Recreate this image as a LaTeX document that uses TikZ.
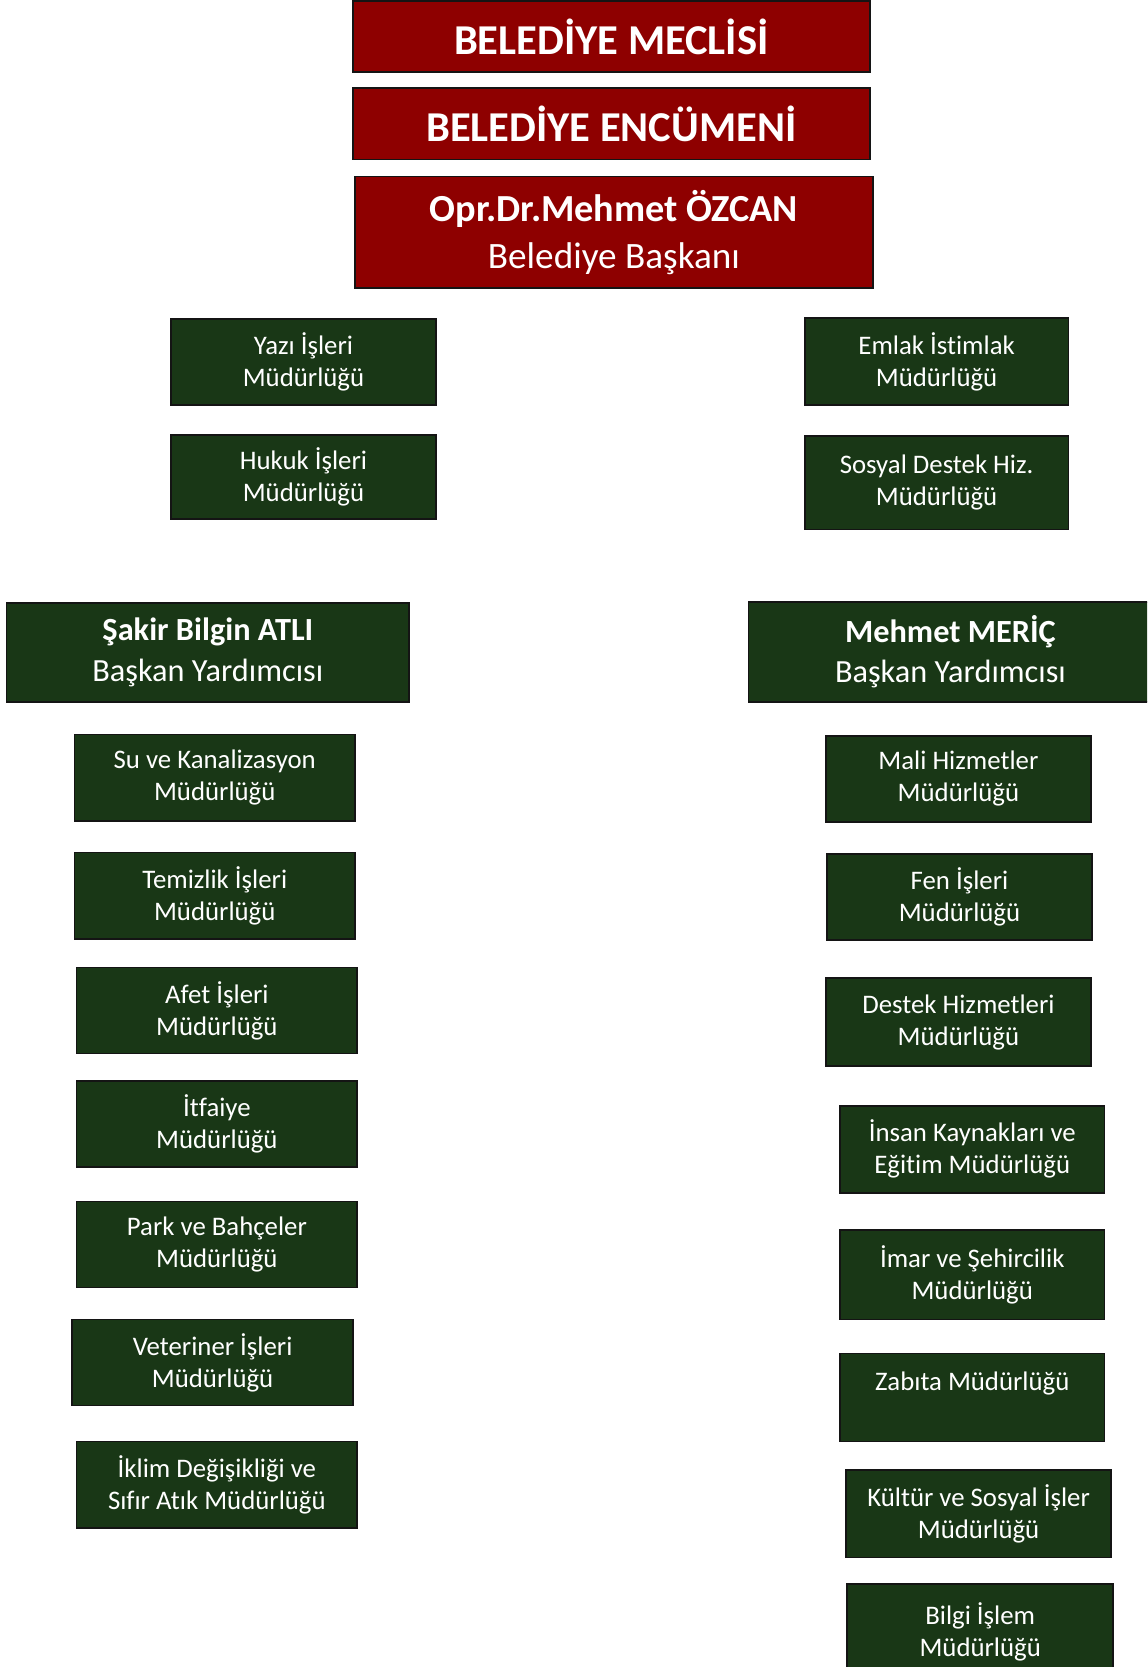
\documentclass[tikz,border=0pt]{standalone}
\usepackage{fontspec}
\setmainfont{Carlito}[Ligatures=NoCommon]
\usepackage{xcolor}
\usepackage{tikz}
\definecolor{meclis}{RGB}{142,0,0}
\definecolor{birim}{RGB}{25,55,22}
\definecolor{kenar}{RGB}{20,20,20}

% kutu: [style]{name}{x1}{y1}{x2}{y2}{text}
\newcommand{\kutu}[7][mud]{%
  \node[#1, minimum width={(#5-#3)*0.5pt}, minimum height={(#6-#4)*0.5pt}]
    (#2) at ({(#3+#5)/2},{(#4+#6)/2}) {#7};}

\begin{document}
\begin{tikzpicture}[x=0.5pt, y=-0.5pt,
  kurul/.style={draw=kenar, line width=0.8pt, fill=meclis, text=white,
    inner sep=0pt, align=center, font=\fontsize{20}{22}\selectfont},
  baskanbox/.style={kurul, font=\fontsize{17.5}{22}\selectfont},
  mud/.style={draw=kenar, line width=0.8pt, fill=birim, text=white,
    inner sep=0pt, align=center, font=\fontsize{12.6}{15}\selectfont},
  yrd/.style={mud, font=\fontsize{15.2}{19}\selectfont}]
\useasboundingbox (0,0) rectangle (1079,1568);
\clip (0,0) rectangle (1079,1568);

% ust yonetim
\kutu[kurul]{meclis}{332}{1}{818}{68}{\textbf{BELEDİYE MECLİSİ}}
\kutu[kurul]{encumen}{332}{83}{818}{150}{\textbf{BELEDİYE ENCÜMENİ}}
\kutu[baskanbox]{baskan}{334}{166}{821}{271}{{\fontsize{18}{22}\selectfont\textbf{Opr.Dr.Mehmet ÖZCAN}}\\Belediye Başkanı}

% baskana bagli birimler
\kutu{yazi}{161}{300}{410}{381}{Yazı İşleri\\Müdürlüğü}
\kutu{hukuk}{161}{409}{410}{488}{Hukuk İşleri\\Müdürlüğü}
\kutu{emlak}{757}{299}{1005}{381}{Emlak İstimlak\\Müdürlüğü}
\kutu{sosyal}{757}{410}{1005}{498}{Sosyal Destek Hiz.\\Müdürlüğü}

% baskan yardimcilari
\kutu[yrd]{sakir}{6}{567}{385}{660}{\textbf{Şakir Bilgin ATLI}\\Başkan Yardımcısı}
\kutu[yrd]{meric}{704}{566}{1084}{660}{\textbf{Mehmet MERİÇ}\\Başkan Yardımcısı}

% sol kolon
\kutu{su}{70}{691}{334}{772}{Su ve Kanalizasyon\\Müdürlüğü}
\kutu{temizlik}{70}{802}{334}{883}{Temizlik İşleri\\Müdürlüğü}
\kutu{afet}{72}{910}{336}{991}{Afet İşleri\\Müdürlüğü}
\kutu{itfaiye}{72}{1017}{336}{1098}{İtfaiye\\Müdürlüğü}
\kutu{park}{72}{1130}{336}{1211}{Park ve Bahçeler\\Müdürlüğü}
\kutu{veteriner}{68}{1241}{332}{1322}{Veteriner İşleri\\Müdürlüğü}
\kutu{iklim}{72}{1356}{336}{1437}{İklim Değişikliği ve\\Sıfır Atık Müdürlüğü}

% sag kolon
\kutu{mali}{777}{692}{1026}{773}{Mali Hizmetler\\Müdürlüğü}
\kutu{fen}{778}{803}{1027}{884}{Fen İşleri\\Müdürlüğü}
\kutu{destek}{777}{920}{1026}{1003}{Destek Hizmetleri\\Müdürlüğü}
\kutu{insan}{790}{1040}{1039}{1122}{İnsan Kaynakları ve\\Eğitim Müdürlüğü}
\kutu{imar}{790}{1157}{1039}{1241}{İmar ve Şehircilik\\Müdürlüğü}
\kutu{zabita}{790}{1273}{1039}{1356}{Zabıta Müdürlüğü\\~}
\kutu{kultur}{796}{1383}{1045}{1465}{Kültür ve Sosyal İşler\\Müdürlüğü}
\kutu{bilgi}{797}{1490}{1047}{1580}{Bilgi İşlem\\Müdürlüğü}
\end{tikzpicture}
\end{document}
